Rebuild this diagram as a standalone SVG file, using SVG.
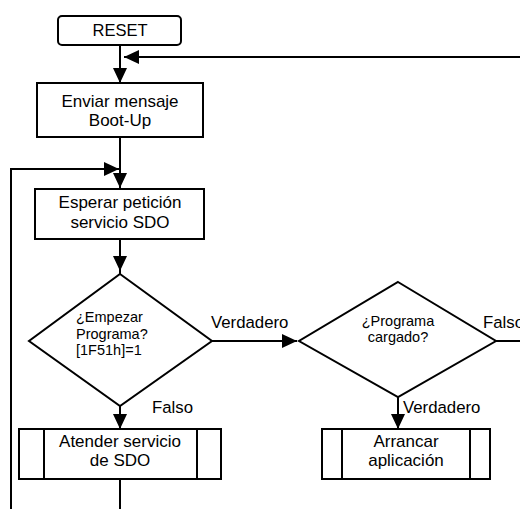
<svg xmlns="http://www.w3.org/2000/svg" width="520" height="509" viewBox="0 0 520 509">
  <style>
    .box { fill: #fff; stroke: #000; stroke-width: 2; }
    .line { fill: none; stroke: #000; stroke-width: 2; }
    text { font-family: "Liberation Sans", Arial, sans-serif; fill: #000; }
    .t { font-size: 17px; text-anchor: middle; }
    .d { font-size: 14.5px; }
    .lbl { font-size: 16.8px; }
  </style>
  <defs>
    <marker id="arrow" markerUnits="userSpaceOnUse" markerWidth="16" markerHeight="16" viewBox="0 0 16 16" refX="15" refY="8" orient="auto">
      <path d="M0,1 L15,8 L0,15 Z" fill="#000"/>
    </marker>
  </defs>

  <!-- connectors -->
  <g id="connectors">
    <line class="line" x1="120" y1="45" x2="120" y2="83" marker-end="url(#arrow)"/>
    <line class="line" x1="520" y1="57" x2="124" y2="57" marker-end="url(#arrow)"/>
    <line class="line" x1="120" y1="137" x2="120" y2="188" marker-end="url(#arrow)"/>
    <polyline class="line" points="11,509 11,169 119,169" marker-end="url(#arrow)"/>
    <line class="line" x1="120" y1="239" x2="120" y2="274"/>
    <line class="line" x1="120" y1="250" x2="120" y2="271" marker-end="url(#arrow)"/>
    <line class="line" x1="212" y1="341" x2="297" y2="341" marker-end="url(#arrow)"/>
    <line class="line" x1="496" y1="341" x2="520" y2="341"/>
    <line class="line" x1="120" y1="406" x2="120" y2="429" marker-end="url(#arrow)"/>
    <line class="line" x1="398" y1="397" x2="398" y2="429" marker-end="url(#arrow)"/>
    <line class="line" x1="120" y1="479" x2="120" y2="509"/>
    <text class="lbl" x="211" y="328">Verdadero</text>
    <text class="lbl" x="483" y="328">Falso</text>
    <text class="lbl" x="152" y="413">Falso</text>
    <text class="lbl" x="403" y="413">Verdadero</text>
  </g>

  <g id="reset">
    <rect class="box" x="58" y="16" width="123" height="29" rx="4"/>
    <text class="t" x="120" y="36" style="font-size:16.5px">RESET</text>
  </g>

  <g id="enviar">
    <rect class="box" x="37" y="83" width="166" height="54"/>
    <text class="t" x="120" y="107">Enviar mensaje</text>
    <text class="t" x="120" y="126">Boot-Up</text>
  </g>

  <g id="esperar">
    <rect class="box" x="35" y="189" width="169" height="50"/>
    <text class="t" x="120" y="208">Esperar petición</text>
    <text class="t" x="120" y="228">servicio SDO</text>
  </g>

  <g id="empezar">
    <polygon class="box" points="120,274 212,341 120,406 29,341"/>
    <text class="d" x="76" y="322">¿Empezar</text>
    <text class="d" x="76" y="339">Programa?</text>
    <text class="d" x="76" y="355">[1F51h]=1</text>
  </g>

  <g id="cargado">
    <polygon class="box" points="398,282 496,341 398,397 299,341"/>
    <text class="d" x="398" y="326" text-anchor="middle">¿Programa</text>
    <text class="d" x="398" y="342" text-anchor="middle">cargado?</text>
  </g>

  <g id="atender">
    <rect class="box" x="19" y="429" width="202" height="50"/>
    <line class="line" x1="44" y1="429" x2="44" y2="479"/>
    <line class="line" x1="197" y1="429" x2="197" y2="479"/>
    <text class="t" x="120" y="447">Atender servicio</text>
    <text class="t" x="120" y="466">de SDO</text>
  </g>

  <g id="arrancar">
    <rect class="box" x="322" y="429" width="168" height="50"/>
    <line class="line" x1="342" y1="429" x2="342" y2="479"/>
    <line class="line" x1="470" y1="429" x2="470" y2="479"/>
    <text class="t" x="406" y="447">Arrancar</text>
    <text class="t" x="406" y="466">aplicación</text>
  </g>
</svg>
